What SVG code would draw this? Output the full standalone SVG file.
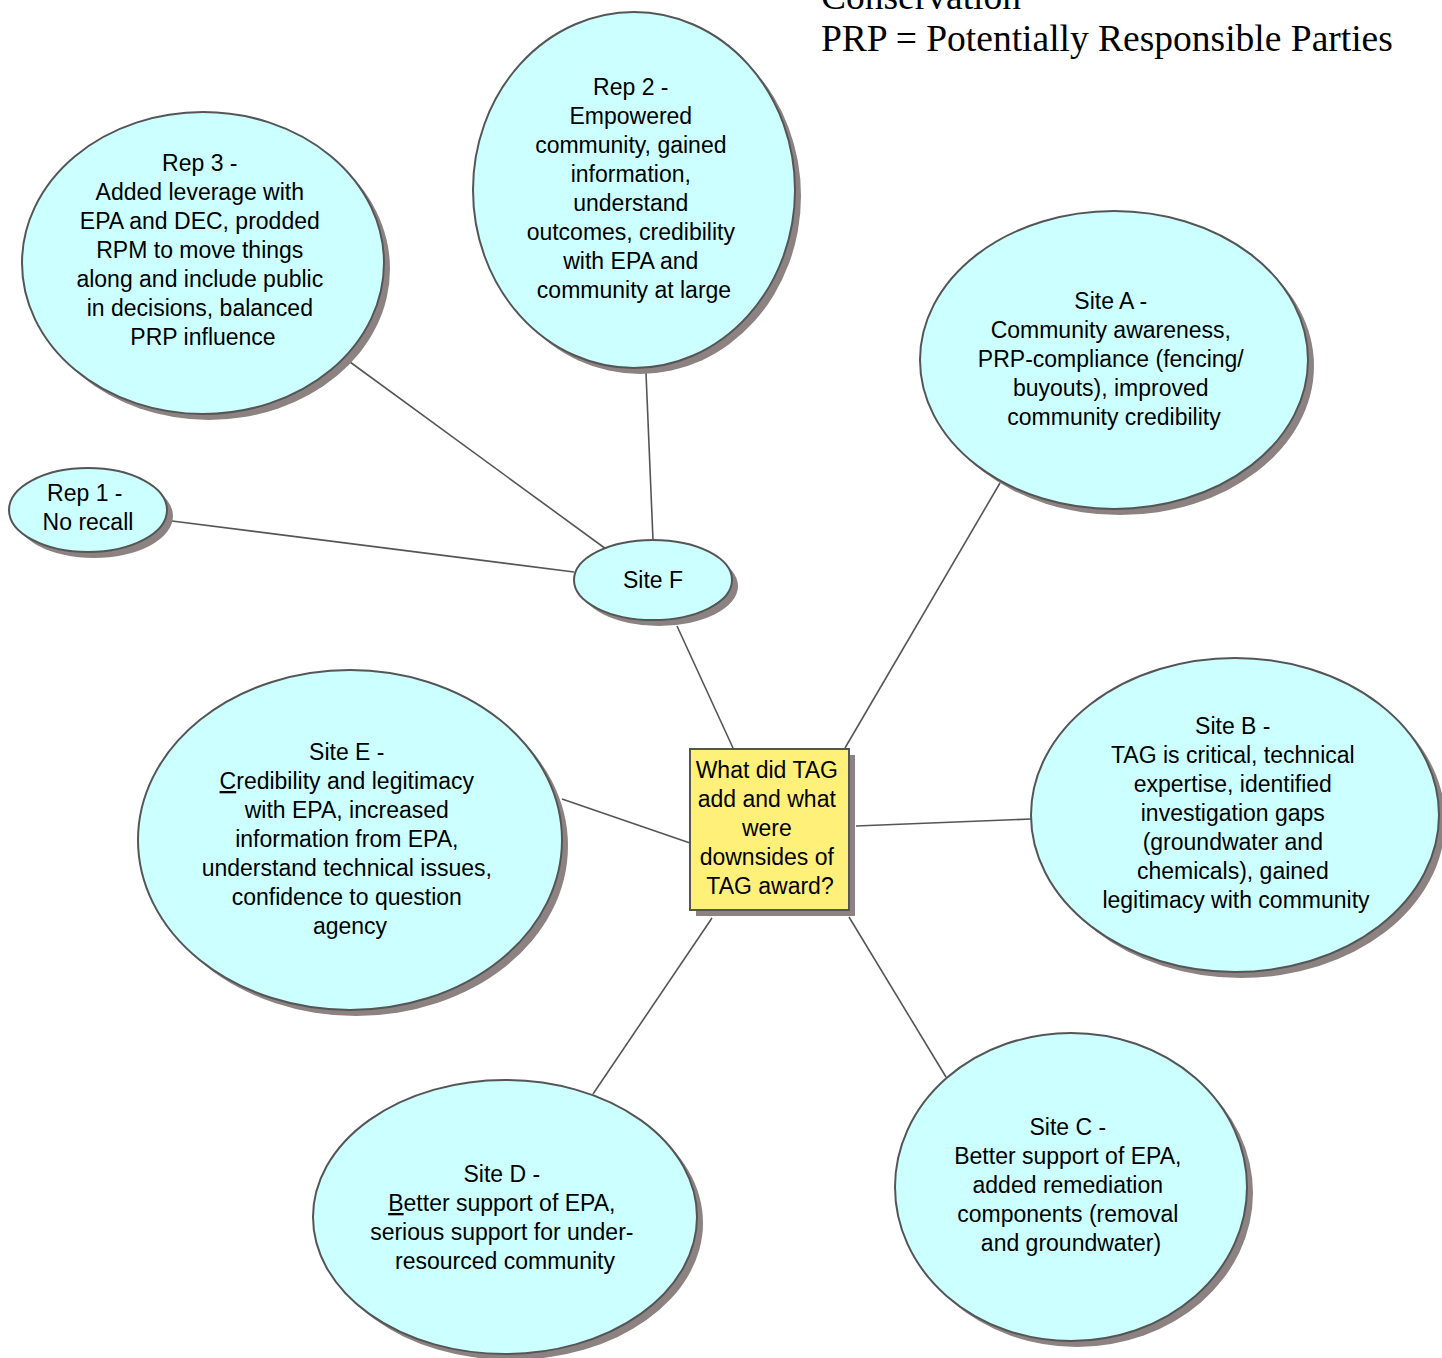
<svg xmlns="http://www.w3.org/2000/svg" width="1442" height="1358" viewBox="0 0 1442 1358">
  <style>
    .bubble { fill: #ccffff; stroke: #555555; stroke-width: 2; }
    .shadow { fill: #8c8282; }
    .note { fill: #fff07a; stroke: #555555; stroke-width: 2; }
    .label { font-family: "Liberation Sans", Arial, sans-serif; font-size: 23px; fill: #000; text-anchor: middle; }
    .legend { font-family: "Liberation Serif", "Times New Roman", serif; font-size: 37.5px; fill: #000; }
    .links line { stroke: #555555; stroke-width: 1.6; }
  </style>

  <!-- legend -->
  <text class="legend" x="821" y="9">Conservation</text>
  <text class="legend" x="821" y="51">PRP = Potentially Responsible Parties</text>

  <!-- connectors -->
  <g class="links">
    <line x1="350" y1="362" x2="606" y2="549"/>
    <line x1="646" y1="373" x2="653" y2="540"/>
    <line x1="172" y1="521" x2="574" y2="572"/>
    <line x1="677" y1="626" x2="733" y2="748"/>
    <line x1="1000" y1="483" x2="845" y2="748"/>
    <line x1="1031" y1="819" x2="856" y2="826"/>
    <line x1="562" y1="799" x2="690" y2="843"/>
    <line x1="593" y1="1094" x2="712" y2="918"/>
    <line x1="946" y1="1077" x2="849" y2="917"/>
  </g>

  <g id="rep3">
    <ellipse class="shadow" cx="209" cy="269" rx="181" ry="151"/>
    <ellipse class="bubble" cx="203" cy="263" rx="181" ry="151"/>
    <text class="label">
      <tspan x="203" y="171">Rep 3 -</tspan>
      <tspan x="203" y="200">Added leverage with</tspan>
      <tspan x="203" y="229">EPA and DEC, prodded</tspan>
      <tspan x="203" y="258">RPM to move things</tspan>
      <tspan x="203" y="287">along and include public</tspan>
      <tspan x="203" y="316">in decisions, balanced</tspan>
      <tspan x="203" y="345">PRP influence</tspan>
    </text>
  </g>

  <g id="rep2">
    <ellipse class="shadow" cx="640" cy="196" rx="161" ry="178"/>
    <ellipse class="bubble" cx="634" cy="190" rx="161" ry="178"/>
    <text class="label">
      <tspan x="634" y="95">Rep 2 -</tspan>
      <tspan x="634" y="124">Empowered</tspan>
      <tspan x="634" y="153">community, gained</tspan>
      <tspan x="634" y="182">information,</tspan>
      <tspan x="634" y="211">understand</tspan>
      <tspan x="634" y="240">outcomes, credibility</tspan>
      <tspan x="634" y="269">with EPA and</tspan>
      <tspan x="634" y="298">community at large</tspan>
    </text>
  </g>

  <g id="site-a">
    <ellipse class="shadow" cx="1120" cy="366" rx="194" ry="149"/>
    <ellipse class="bubble" cx="1114" cy="360" rx="194" ry="149"/>
    <text class="label">
      <tspan x="1114" y="309">Site A -</tspan>
      <tspan x="1114" y="338">Community awareness,</tspan>
      <tspan x="1114" y="367">PRP-compliance (fencing/</tspan>
      <tspan x="1114" y="396">buyouts), improved</tspan>
      <tspan x="1114" y="425">community credibility</tspan>
    </text>
  </g>

  <g id="rep1">
    <ellipse class="shadow" cx="94" cy="516" rx="79" ry="42"/>
    <ellipse class="bubble" cx="88" cy="510" rx="79" ry="42"/>
    <text class="label">
      <tspan x="88" y="501">Rep 1 -</tspan>
      <tspan x="88" y="530">No recall</tspan>
    </text>
  </g>

  <g id="site-f">
    <ellipse class="shadow" cx="659" cy="586" rx="79" ry="40"/>
    <ellipse class="bubble" cx="653" cy="580" rx="79" ry="40"/>
    <text class="label" x="653" y="588">Site F</text>
  </g>

  <g id="site-e">
    <ellipse class="shadow" cx="356" cy="846" rx="212" ry="170"/>
    <ellipse class="bubble" cx="350" cy="840" rx="212" ry="170"/>
    <text class="label">
      <tspan x="350" y="760">Site E -</tspan>
      <tspan x="350" y="789"><tspan text-decoration="underline">C</tspan>redibility and legitimacy</tspan>
      <tspan x="350" y="818">with EPA, increased</tspan>
      <tspan x="350" y="847">information from EPA,</tspan>
      <tspan x="350" y="876">understand technical issues,</tspan>
      <tspan x="350" y="905">confidence to question</tspan>
      <tspan x="350" y="934">agency</tspan>
    </text>
  </g>

  <g id="site-b">
    <ellipse class="shadow" cx="1241" cy="821" rx="204" ry="157"/>
    <ellipse class="bubble" cx="1235" cy="815" rx="204" ry="157"/>
    <text class="label">
      <tspan x="1236" y="734">Site B -</tspan>
      <tspan x="1236" y="763">TAG is critical, technical</tspan>
      <tspan x="1236" y="792">expertise, identified</tspan>
      <tspan x="1236" y="821">investigation gaps</tspan>
      <tspan x="1236" y="850">(groundwater and</tspan>
      <tspan x="1236" y="879">chemicals), gained</tspan>
      <tspan x="1236" y="908">legitimacy with community</tspan>
    </text>
  </g>

  <g id="site-d">
    <ellipse class="shadow" cx="511" cy="1223" rx="192" ry="137"/>
    <ellipse class="bubble" cx="505" cy="1217" rx="192" ry="137"/>
    <text class="label">
      <tspan x="505" y="1182">Site D -</tspan>
      <tspan x="505" y="1211"><tspan text-decoration="underline">B</tspan>etter support of EPA,</tspan>
      <tspan x="505" y="1240">serious support for under-</tspan>
      <tspan x="505" y="1269">resourced community</tspan>
    </text>
  </g>

  <g id="site-c">
    <ellipse class="shadow" cx="1077" cy="1193" rx="176" ry="154"/>
    <ellipse class="bubble" cx="1071" cy="1187" rx="176" ry="154"/>
    <text class="label">
      <tspan x="1071" y="1135">Site C -</tspan>
      <tspan x="1071" y="1164">Better support of EPA,</tspan>
      <tspan x="1071" y="1193">added remediation</tspan>
      <tspan x="1071" y="1222">components (removal</tspan>
      <tspan x="1071" y="1251">and groundwater)</tspan>
    </text>
  </g>

  <g id="question">
    <rect class="shadow" x="696" y="755" width="159" height="161"/>
    <rect class="note" x="690" y="749" width="159" height="161"/>
    <text class="label">
      <tspan x="770" y="778">What did TAG</tspan>
      <tspan x="770" y="807">add and what</tspan>
      <tspan x="770" y="836">were</tspan>
      <tspan x="770" y="865">downsides of</tspan>
      <tspan x="770" y="894">TAG award?</tspan>
    </text>
  </g>
</svg>
